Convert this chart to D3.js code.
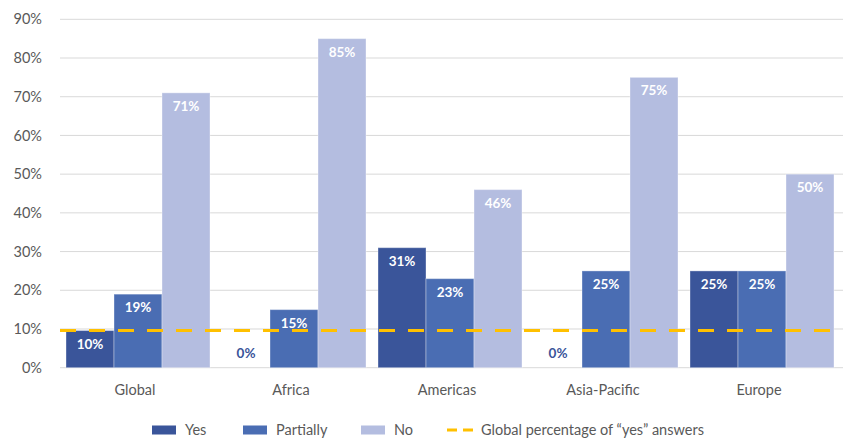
<!DOCTYPE html>
<html><head><meta charset="utf-8">
<script src="https://cdn.jsdelivr.net/npm/d3@7"></script>
<style>body{margin:0;background:#fff}svg{display:block}text{font-family:Lato,"Open Sans",sans-serif}</style>
</head><body><svg id="c" width="843" height="439"></svg>
<script>
(function(){
const categories = ["Global","Africa","Americas","Asia-Pacific","Europe"];
const seriesNames = ["Yes","Partially","No"];
const yesValues = [9.6, 0, 31, 0, 25];
const partiallyValues = [19, 15, 23, 25, 25];
const noValues = [71, 85, 46, 75, 50];
const globalYes = 9.6;
const yTicks = [0,10,20,30,40,50,60,70,80,90];
const colors = ["#3A559A","#4A6DB3","#B4BDE0"];
const lineLabel = "Global percentage of \u201cyes\u201d answers";

const svg = d3.select("#c");
const mLeft = 60, mRight = 840, mTop = 19.3, mBottom = 367.7;
const y = d3.scaleLinear().domain([0,90]).range([mBottom, mTop]);
const x0 = d3.scaleBand().domain(categories).range([mLeft, mRight]).padding(0);
const x1 = d3.scaleBand().domain(seriesNames).range([6, x0.bandwidth()-6]).padding(0);
const data = [yesValues, partiallyValues, noValues];

svg.append("g").selectAll("line").data(yTicks).join("line")
  .attr("x1", mLeft).attr("x2", 843)
  .attr("y1", d => y(d)).attr("y2", d => y(d))
  .attr("stroke", "#D9D9D9").attr("stroke-width", 1);
svg.append("g").selectAll("text").data(yTicks).join("text")
  .attr("x", 42).attr("y", d => y(d)).attr("dy", "0.35em")
  .attr("text-anchor", "end").attr("font-size", 14.5).attr("fill", "#595959")
  .text(d => d + "%");
svg.append("g").selectAll("text").data(categories).join("text")
  .attr("x", d => x0(d) + x0.bandwidth()/2 - 3).attr("y", 395)
  .attr("text-anchor", "middle").attr("font-size", 14.5).attr("fill", "#595959")
  .text(d => d);

const bars = [];
seriesNames.forEach((s, si) => categories.forEach((c, ci) => bars.push({s, si, c, v: data[si][ci]})));
svg.append("g").selectAll("rect").data(bars.filter(d => d.v > 0)).join("rect")
  .attr("x", d => x0(d.c) + x1(d.s)).attr("width", x1.bandwidth())
  .attr("y", d => y(d.v)).attr("height", d => y(0) - y(d.v))
  .attr("fill", d => colors[d.si]).attr("stroke", "rgba(255,255,255,0.35)").attr("stroke-width", 1);
svg.append("g").selectAll("text").data(bars).join("text")
  .attr("x", d => x0(d.c) + x1(d.s) + x1.bandwidth()/2)
  .attr("y", d => d.v > 0 ? y(d.v) + 18 : y(0) - 10)
  .attr("text-anchor", "middle").attr("font-size", 13.5).attr("font-weight", "bold")
  .attr("fill", d => d.v > 0 ? "#fff" : colors[0])
  .text(d => Math.round(d.v) + "%");

svg.append("line").attr("x1", mLeft).attr("x2", 843)
  .attr("y1", y(globalYes)).attr("y2", y(globalYes))
  .attr("stroke", "#FFC000").attr("stroke-width", 3).attr("stroke-dasharray", "16,13");

const lg = svg.append("g");
const legendItems = [
  {label: seriesNames[0], x: 152, type: "rect", color: colors[0]},
  {label: seriesNames[1], x: 243, type: "rect", color: colors[1]},
  {label: seriesNames[2], x: 361, type: "rect", color: colors[2]},
  {label: lineLabel, x: 447, type: "line", color: "#FFC000"}
];
const ly = 430;
legendItems.forEach(it => {
  if (it.type === "rect") {
    lg.append("rect").attr("x", it.x).attr("y", ly - 4.5).attr("width", 24).attr("height", 9).attr("fill", it.color);
  } else {
    lg.append("line").attr("x1", it.x).attr("x2", it.x + 26).attr("y1", ly).attr("y2", ly)
      .attr("stroke", it.color).attr("stroke-width", 3).attr("stroke-dasharray", "10,6");
  }
  lg.append("text").attr("x", it.x + (it.type === "rect" ? 33 : 34)).attr("y", ly).attr("dy", "0.35em")
    .attr("font-size", 14.5).attr("fill", "#595959").text(it.label);
});
})();
</script></body></html>
